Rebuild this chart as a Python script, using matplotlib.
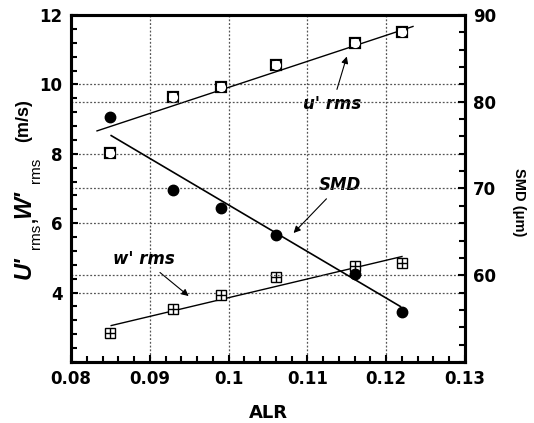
import matplotlib
matplotlib.use("Agg")
import matplotlib.pyplot as plt
from matplotlib.ticker import MultipleLocator

plt.rcParams['font.family'] = ['DejaVu Sans']
plt.rcParams['font.weight'] = 'bold'

# Data
alr = [0.085, 0.093, 0.099, 0.106, 0.116, 0.122]
u_rms = [8.01, 9.64, 9.92, 10.55, 11.19, 11.50]
w_rms = [2.84, 3.53, 3.93, 4.45, 4.78, 4.85]
smd = [78.2, 69.8, 67.7, 64.6, 60.2, 55.8]

# Trend lines (end points)
u_fit_x = [0.0833, 0.1234]
u_fit_y = [8.66, 11.67]
w_fit_x = [0.0851, 0.1220]
w_fit_y = [3.05, 5.04]
smd_fit_x = [0.0851, 0.1218]
smd_fit_y = [76.1, 56.4]

x_ticks = [0.08, 0.09, 0.1, 0.11, 0.12, 0.13]
x_ticklabels = ['0.08', '0.09', '0.1', '0.11', '0.12', '0.13']
left_ticks = [4, 6, 8, 10, 12]
right_ticks = [60, 70, 80, 90]

W, H = 534, 423
fig = plt.figure(figsize=(W / 100, H / 100), dpi=100)
ax = fig.add_axes([71 / W, 1 - 362 / H, (465 - 71) / W, (362 - 15) / H])
ax2 = ax.twinx()

ax.set_xlim(0.08, 0.13)
ax.set_ylim(2, 12)
ax2.set_ylim(50, 90)

ax.set_xticks(x_ticks)
ax.set_xticklabels(x_ticklabels)
ax.xaxis.set_minor_locator(MultipleLocator(0.002))
ax.set_yticks(left_ticks)
ax.yaxis.set_minor_locator(MultipleLocator(0.4))
ax2.set_yticks(right_ticks)
ax2.yaxis.set_minor_locator(MultipleLocator(2))

for a in (ax, ax2):
    for s in a.spines.values():
        s.set_linewidth(2.2)
    a.tick_params(which='both', direction='in', width=1.5, labelsize=12, pad=6)
    a.tick_params(which='major', length=5)
    a.tick_params(which='minor', length=4)
ax.tick_params(top=False, which='both')

# Grid
grid_kw = dict(color='#555555', lw=0.9, ls=(0, (1.5, 1.5)), zorder=0)
for xv in x_ticks[1:-1]:
    ax.axvline(xv, **grid_kw)
for yv in left_ticks[:-1]:
    ax.axhline(yv, **grid_kw)
for yv in right_ticks[:-1]:
    ax2.axhline(yv, **grid_kw)

# Fit lines
ax.plot(u_fit_x, u_fit_y, color='black', lw=1.0, zorder=2)
ax.plot(w_fit_x, w_fit_y, color='black', lw=1.0, zorder=2)
ax2.plot(smd_fit_x, smd_fit_y, color='black', lw=1.2, zorder=2)

# Markers
ax.plot(alr, u_rms, ls='none', marker='s', ms=7, mfc='white', mec='black', mew=1.6, zorder=3)
ax.plot(alr, u_rms, ls='none', marker='o', ms=6.6, mfc='white', mec='white', mew=0, zorder=4)
ax.plot(alr, w_rms, ls='none', marker='s', ms=7, mfc='white', mec='black', mew=1.0, zorder=3)
ax.plot(alr, w_rms, ls='none', marker='+', ms=7, mec='black', mew=1.0, zorder=4)
ax2.plot(alr, smd, ls='none', marker='o', ms=7.5, mfc='black', mec='black', zorder=4)

# X label
ax.set_xlabel('ALR', fontsize=13, fontweight='bold', labelpad=11)


def ftext(x, y, s, **kw):
    fig.text(x / W, 1 - y / H, s, rotation=90, ha='center', va='center',
             rotation_mode='anchor', **kw)


lib = 'Liberation Sans'
# Left y label composed piecewise: U'rms, W'rms (m/s)
ftext(24, 268, "U'", family=lib, fontsize=17, fontweight='bold', style='italic')
ftext(36, 236, "rms", family=lib, fontsize=11, fontweight='normal')
ftext(30, 219, ",", family=lib, fontsize=13, fontweight='bold')
ftext(24, 204, "W'", family=lib, fontsize=17, fontweight='bold', style='italic')
ftext(36, 170, "rms", family=lib, fontsize=11, fontweight='normal')
ftext(24, 121, "(m/s)", family=lib, fontsize=13, fontweight='bold')

# Right y label
fig.text(519 / W, 1 - 202 / H, "SMD (\u03bcm)", rotation=270, ha='center', va='center',
         family=lib, fontsize=10.5, fontweight='bold')

# Annotations
ann_kw = dict(fontsize=12, fontweight='bold', style='italic', ha='center', va='center')
arrow_kw = dict(arrowstyle='-|>', color='black', lw=0.8, mutation_scale=10)
ax.annotate("u' rms", xy=(0.1151, 10.88), xytext=(0.1132, 9.44),
            arrowprops=arrow_kw, **ann_kw)
ax.annotate("SMD", xy=(0.1080, 5.66), xytext=(0.1141, 7.10),
            arrowprops=arrow_kw, **ann_kw)
ax.annotate("w' rms", xy=(0.0952, 3.85), xytext=(0.0892, 4.97),
            arrowprops=arrow_kw, **ann_kw)

fig.savefig('out.png', dpi=100)
